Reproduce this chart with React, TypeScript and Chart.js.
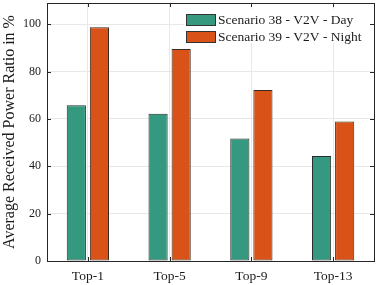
import React, { useEffect, useRef } from "react";
import { Chart, registerables } from "chart.js";

Chart.register(...registerables);

const categories = ["Top-1", "Top-5", "Top-9", "Top-13"];
const dayValues = [65.8, 62.2, 51.8, 44.4];
const nightValues = [98.8, 89.6, 72.2, 58.9];
const seriesLabels = ["Scenario 38 - V2V - Day", "Scenario 39 - V2V - Night"];
const yTicks = [0, 20, 40, 60, 80, 100];
const yTitle = "Average Received Power Ratio in %";

const GREEN = "#35997f";
const ORANGE = "#d95319";
const FONT = "'Liberation Serif', 'DejaVu Serif', serif";

const framePlugin = {
  id: "frame",
  afterDraw(chart: any) {
    const { ctx, chartArea } = chart;
    const { left, right, top, bottom } = chartArea;
    const xs = chart.scales.x;
    const ys = chart.scales.y;
    ctx.save();
    // legend
    ctx.fillStyle = "#ffffff";
    ctx.fillRect(184, 9, 187, 34);
    const colors = [GREEN, ORANGE];
    ctx.font = "13.5px " + FONT;
    ctx.textBaseline = "middle";
    ctx.textAlign = "left";
    seriesLabels.forEach((lab, i) => {
      const cy = 20 + i * 17;
      ctx.fillStyle = colors[i];
      ctx.fillRect(186, cy - 6, 30, 12);
      ctx.strokeStyle = "#333333";
      ctx.lineWidth = 1;
      ctx.strokeRect(186.5, cy - 5.5, 29, 11);
      ctx.fillStyle = "#1a1a1a";
      ctx.fillText(lab, 218, cy + 0.5);
    });
    // inward ticks
    ctx.strokeStyle = "#262626";
    ctx.lineWidth = 1;
    ctx.beginPath();
    yTicks.forEach((v) => {
      const y = Math.round(ys.getPixelForValue(v)) + 0.5;
      ctx.moveTo(left, y);
      ctx.lineTo(left + 4, y);
      ctx.moveTo(right, y);
      ctx.lineTo(right - 4, y);
    });
    categories.forEach((_, i) => {
      const x = Math.round(xs.getPixelForValue(i)) + 0.5;
      ctx.moveTo(x, bottom);
      ctx.lineTo(x, bottom - 4);
      ctx.moveTo(x, top);
      ctx.lineTo(x, top + 4);
    });
    ctx.stroke();
    // box
    ctx.strokeRect(Math.round(left) + 0.5, Math.round(top) + 0.5, Math.round(right - left), Math.round(bottom - top));
    ctx.restore();
  },
};

export default function App() {
  const ref = useRef<HTMLCanvasElement>(null);
  useEffect(() => {
    const chart = new Chart(ref.current!, {
      type: "bar",
      data: {
        labels: categories,
        datasets: [
          {
            label: seriesLabels[0],
            data: dayValues,
            backgroundColor: GREEN,
            borderColor: "#2b2b2b",
            borderWidth: 1,
            borderSkipped: false,
            barPercentage: 0.83,
            categoryPercentage: 0.565,
          },
          {
            label: seriesLabels[1],
            data: nightValues,
            backgroundColor: ORANGE,
            borderColor: "#3a2a20",
            borderWidth: 1,
            borderSkipped: false,
            barPercentage: 0.83,
            categoryPercentage: 0.565,
          },
        ],
      },
      options: {
        animation: false,
        responsive: false,
        layout: { padding: { top: 3, right: 4, left: 0, bottom: 0 } },
        plugins: { legend: { display: false }, tooltip: { enabled: false } },
        scales: {
          x: {
            offset: true,
            grid: { offset: false, color: "#e8e8e8", drawTicks: false },
            border: { display: false },
            ticks: { font: { family: FONT, size: 13.5 }, color: "#1a1a1a", padding: 7 },
            afterFit: (s: any) => {
              s.height = 24;
              s.paddingLeft = 0;
              s.paddingRight = 0;
            },
          },
          y: {
            min: 0,
            max: 109,
            afterBuildTicks: (s: any) => { s.ticks = yTicks.map((v) => ({ value: v })); },
            grid: { color: "#e8e8e8", drawTicks: false },
            border: { display: false },
            ticks: { font: { family: FONT, size: 12 }, color: "#1a1a1a", padding: 6 },
            title: { display: true, text: yTitle, font: { family: FONT, size: 16 }, color: "#1a1a1a", padding: 0 },
            afterFit: (s: any) => {
              s.width = 47;
              s.paddingTop = 0;
              s.paddingBottom = 0;
            },
          },
        },
      },
      plugins: [framePlugin],
    });
    return () => chart.destroy();
  }, []);
  return (
    <div style={{ position: "absolute", left: 0, top: 0, width: 378, height: 285, background: "#fff" }}>
      <canvas ref={ref} width={378} height={285} />
    </div>
  );
}
